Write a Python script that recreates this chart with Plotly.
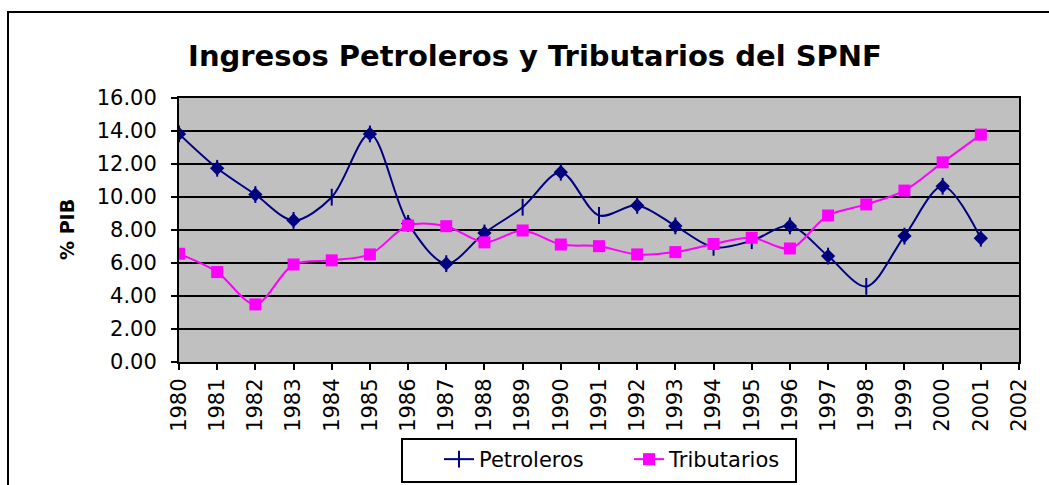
import plotly.graph_objects as go

# ---- data ----
years = [1980, 1981, 1982, 1983, 1984, 1985, 1986, 1987, 1988, 1989, 1990,
         1991, 1992, 1993, 1994, 1995, 1996, 1997, 1998, 1999, 2000, 2001]
petroleros = [13.82, 11.74, 10.15, 8.58, 9.99, 13.82, 8.40, 5.96, 7.82, 9.38, 11.50,
              8.88, 9.49, 8.25, 6.95, 7.35, 8.25, 6.42, 4.58, 7.63, 10.65, 7.50]
tributarios = [6.56, 5.45, 3.49, 5.91, 6.16, 6.52, 8.27, 8.23, 7.25, 7.97, 7.12,
               7.02, 6.52, 6.66, 7.15, 7.53, 6.88, 8.88, 9.55, 10.39, 12.10, 13.78]
# points of the Petroleros series that keep the plain (tick) marker
petro_tick_years = [1984, 1989, 1991, 1994, 1995, 1998]
x_tick_labels = [str(y) for y in range(1980, 2003)]
y_tick_values = [0, 2, 4, 6, 8, 10, 12, 14, 16]

NAVY = "#000080"
MAGENTA = "#FF00FF"
FONT = "DejaVu Sans"

W, H = 1049, 485
L, R, T, B = 179, 1019, 98, 362


def px_x(px):
    return (px - L) / (R - L)


def px_y(py):
    return (B - py) / (B - T)


fig = go.Figure()

# Petroleros line with tick markers (legend entry)
fig.add_trace(go.Scatter(
    x=years, y=petroleros, name="Petroleros", mode="lines+markers",
    line=dict(color=NAVY, width=2, shape="spline", smoothing=0.9),
    marker=dict(symbol="line-ns", size=12, color=NAVY,
                line=dict(color=NAVY, width=2)),
))
# Petroleros diamonds
dx = [y for y in years if y not in petro_tick_years]
dy = [v for y, v in zip(years, petroleros) if y not in petro_tick_years]
fig.add_trace(go.Scatter(
    x=dx, y=dy, mode="markers", showlegend=False, hoverinfo="skip",
    marker=dict(symbol="diamond", size=11, color=NAVY,
                line=dict(color=NAVY, width=0)),
))
# Tributarios
fig.add_trace(go.Scatter(
    x=years, y=tributarios, name="Tributarios", mode="lines+markers",
    line=dict(color=MAGENTA, width=2, shape="spline", smoothing=0.9),
    marker=dict(symbol="square", size=12, color=MAGENTA,
                line=dict(color=MAGENTA, width=0)),
))

fig.update_layout(
    width=W, height=H,
    margin=dict(l=L, r=W - R, t=T, b=H - B, pad=0, autoexpand=False),
    paper_bgcolor="white",
    plot_bgcolor="#C0C0C0",
    font=dict(family=FONT, size=21, color="black"),
    title=dict(text="<b>Ingresos Petroleros y Tributarios del SPNF</b>",
               font=dict(family=FONT, size=29, color="black"),
               x=535 / W, xanchor="center", xref="container",
               y=1 - 56 / H, yanchor="middle", yref="container"),
    showlegend=True,
    legend=dict(orientation="h", x=px_x(439), xanchor="left",
                y=px_y(439), yanchor="top",
                bgcolor="rgba(0,0,0,0)", borderwidth=0,
                font=dict(family=FONT, size=21, color="black"),
                entrywidth=145, entrywidthmode="pixels",
                traceorder="normal"),
)

fig.update_xaxes(
    range=[1980, 2002], tickmode="array",
    tickvals=[int(t) for t in x_tick_labels], ticktext=x_tick_labels,
    tickangle=-90, ticks="outside", ticklen=6, tickwidth=2, tickcolor="black",
    showgrid=False, zeroline=False, automargin=False,
    showline=True, linecolor="black", linewidth=2, mirror=True,
    tickfont=dict(family=FONT, size=21, color="black"),
)
fig.update_yaxes(
    range=[0, 16], tickmode="array", tickvals=y_tick_values,
    tickformat=".2f",
    ticks="outside", ticklen=6, tickwidth=2, tickcolor="black",
    showgrid=True, gridcolor="black", gridwidth=2,
    zeroline=False, automargin=False,
    showline=True, linecolor="black", linewidth=2, mirror=True,
    tickfont=dict(family=FONT, size=21, color="black"),
    ticklabelstandoff=10,
)

# y axis title
fig.add_annotation(
    text="<b>% PIB</b>", textangle=-90, showarrow=False,
    xref="paper", yref="paper", x=px_x(67), y=px_y(230),
    xanchor="center", yanchor="middle",
    font=dict(family=FONT, size=19, color="black"),
)

# outer chart border
fig.add_shape(type="rect", xref="paper", yref="paper",
              x0=px_x(8), x1=px_x(1065), y0=px_y(500), y1=px_y(12),
              line=dict(color="black", width=2), fillcolor="rgba(0,0,0,0)",
              layer="above")
# legend border
fig.add_shape(type="rect", xref="paper", yref="paper",
              x0=px_x(402), x1=px_x(796), y0=px_y(482), y1=px_y(439),
              line=dict(color="black", width=2), fillcolor="rgba(0,0,0,0)",
              layer="above")
fig.add_shape(type="line", xref="paper", yref="paper",
              x0=px_x(402), x1=px_x(796), y0=px_y(482), y1=px_y(482),
              line=dict(color="black", width=2), layer="above")

fig.write_html("out.html", config={"displayModeBar": False},
               post_script="document.body.style.margin='0';document.body.style.padding='0';")
